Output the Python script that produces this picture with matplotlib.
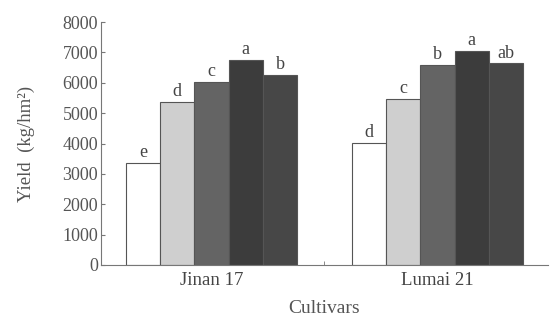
import numpy as np
import matplotlib.pyplot as plt

plt.rcParams['font.family'] = ['Liberation Serif', 'DejaVu Serif']

cultivars = ["Jinan 17", "Lumai 21"]
yield_vals = [
    [3350, 4030],
    [5380, 5460],
    [6030, 6600],
    [6760, 7060],
    [6250, 6640],
]
letters = [
    ["e", "d"],
    ["d", "c"],
    ["c", "b"],
    ["a", "a"],
    ["b", "ab"],
]
colors = ["#ffffff", "#cfcfcf", "#646464", "#3c3c3c", "#474747"]

fig = plt.figure(figsize=(5.57, 3.2), dpi=100)
ax = fig.add_axes([0.181, 0.172, 0.803, 0.759])

x = np.arange(len(cultivars))
w = 0.152
for i, vals in enumerate(yield_vals):
    pos = x + (i - 2) * w
    ax.bar(pos, vals, width=w, color=colors[i], edgecolor="#555555", linewidth=0.8)
    for p, v, t in zip(pos, vals, letters[i]):
        ax.text(p, v + 60, t, ha="center", va="bottom", fontsize=13, color="#444444")

ax.set_xlim(-0.49, 1.49)
ax.set_ylim(0, 8000)
ax.set_yticks(range(0, 8001, 1000))
ax.set_xticks(x)
ax.set_xticks([0.5], minor=True)
ax.set_xticklabels(cultivars, fontsize=13.5, color="#444444")
ax.tick_params(axis="y", labelsize=13, labelcolor="#555555", direction="in", length=3,
               color="#777777", pad=2)
ax.tick_params(axis="x", which="major", length=0, pad=5)
ax.tick_params(axis="x", which="minor", direction="in", length=3, color="#777777")
ax.set_xlabel("Cultivars", fontsize=14, color="#555555", labelpad=8)
ax.set_ylabel("Yield  (kg/hm²)", fontsize=13.5, color="#555555", labelpad=20)
for s in ["top", "right"]:
    ax.spines[s].set_visible(False)
for s in ["left", "bottom"]:
    ax.spines[s].set_color("#777777")
    ax.spines[s].set_linewidth(0.8)

fig.savefig("out.png", dpi=100)
